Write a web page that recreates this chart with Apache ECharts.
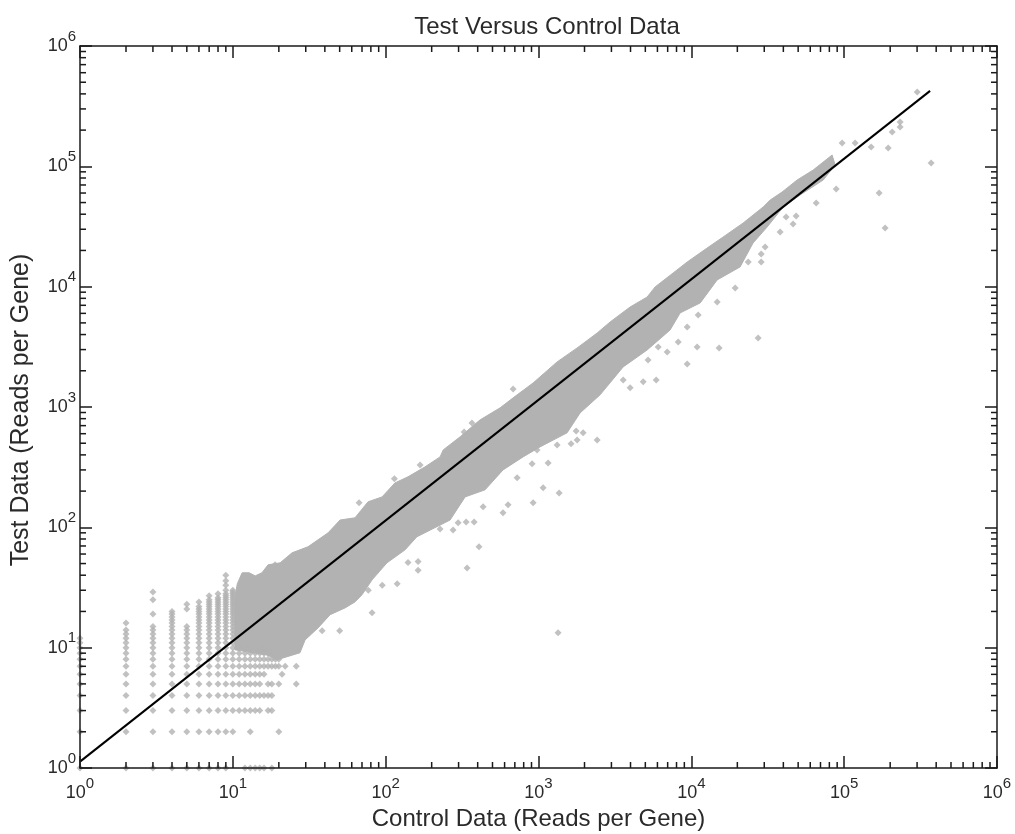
<!DOCTYPE html>
<html>
<head>
<meta charset="utf-8">
<title>Test Versus Control Data</title>
<script src="https://cdn.jsdelivr.net/npm/echarts@6/dist/echarts.min.js"></script>
<style>
  html, body { margin: 0; padding: 0; background: #fff; }
  #chart { width: 1015px; height: 834px; }
</style>
</head>
<body>
<div id="chart"></div>
<script>
// fit line, end points
const fitLine = [[1, 1.13], [365000, 424000]];

// outline of the solid cloud of genes, upper side then lower side [control, test]
const cloudUpper = [
  [10.3, 25.9], [10.7, 34], [11.5, 41.9], [12.8, 41.9], [14, 39.5], [15.5, 41.9], [17, 48.8], [20.4, 50.7],
  [24.4, 61.4], [31, 68.9], [42, 90], [50.3, 115], [63, 120], [76.7, 163], [94.7, 179], [115, 234], [140, 263],
  [181, 318], [227, 385], [238, 440], [307, 565], [415, 782], [561, 984], [682, 1191], [922, 1585], [1324, 2371],
  [1790, 3097], [2420, 4121], [2944, 5094], [3975, 6776], [5140, 8204], [5795, 9954], [7603, 13000], [9397, 16032],
  [12680, 20940], [16150, 25880], [21830, 33810], [29510, 45920], [32810, 52480], [39270, 61200], [49200, 76900],
  [62660, 93100], [83400, 124200]
];
const cloudLower = [
  [10.3, 9.6], [16.7, 8.7], [19.5, 7.94], [27.5, 9.07], [29.7, 11.6], [36.1, 14.6], [43.3, 18.8], [54.2, 21.4],
  [63, 24], [70, 27.5], [81.5, 36.6], [102, 50.7], [134, 65], [160, 83.4], [264, 115], [331, 179], [447, 205],
  [586, 300], [793, 385], [1023, 466], [1538, 610], [1871, 893], [2529, 1262], [3581, 2153], [5140, 2979],
  [7261, 4365], [8450, 6053], [11430, 7328], [14760, 11380], [20840, 14590], [25350, 23070], [31330, 31330],
  [39900, 45920], [51500, 57800], [72900, 76900], [87300, 102500]
];

// low counts sit on whole numbers: [control, list of test values]
const lowCountColumns = [
  [1, [1, 2, 3, 4, 5, 6, 7, 8, 9, 10, 11, 12]],
  [2, [1, 2, 3, 4, 5, 6, 7, 8, 9, 10, 11, 12, 13, 14, 16]],
  [3, [1, 2, 3, 4, 5, 6, 7, 8, 9, 10, 11, 12, 13, 14, 15, 19, 25, 29]],
  [4, [1, 2, 3, 4, 5, 6, 7, 8, 9, 10, 11, 12, 13, 14, 15, 16, 17, 18, 19, 20]],
  [5, [1, 2, 3, 4, 5, 6, 7, 8, 9, 10, 11, 12, 13, 14, 15, 21, 23]],
  [6, [1, 2, 3, 4, 5, 6, 7, 8, 9, 10, 11, 12, 13, 14, 15, 16, 17, 18, 19, 20, 21, 22, 24]],
  [7, [1, 2, 3, 4, 5, 6, 7, 8, 9, 10, 11, 12, 13, 14, 15, 16, 17, 18, 19, 20, 21, 22, 23, 24, 25, 27]],
  [8, [1, 2, 3, 4, 5, 6, 7, 8, 9, 10, 11, 12, 13, 14, 15, 16, 17, 18, 19, 20, 21, 22, 23, 24, 25, 26, 28]],
  [9, [1, 2, 3, 4, 5, 6, 7, 8, 9, 10, 11, 12, 13, 14, 15, 16, 17, 18, 19, 20, 21, 22, 23, 24, 25, 26, 27, 28, 30, 33, 36, 40]],
  [10, [2, 3, 4, 5, 6, 7, 8, 9, 10, 11, 12, 13, 14, 15, 16, 17, 18, 19, 20, 21, 22, 23, 24, 25, 26, 27, 28, 29, 30]]
];

// rows right of control = 10, below the cloud: [test, list of control values]
const lowCountRows = [
  [10, [11, 12, 13, 14, 15, 16]],
  [9, [11, 12, 13, 14, 15, 16, 17, 18]],
  [8, [11, 12, 13, 14, 15, 16, 17, 18, 19, 20]],
  [7, [11, 12, 13, 14, 15, 16, 17, 18, 19, 20, 22, 26]],
  [6, [11, 12, 13, 14, 15, 16, 21]],
  [5, [11, 12, 13, 14, 15, 17, 18, 20, 26]],
  [4, [11, 12, 13, 14, 15, 16, 17, 18]],
  [3, [11, 12, 13, 14, 15, 17, 18]],
  [2, [13, 20]],
  [1, [12, 13, 14, 15, 16, 18]]
];

// stray genes off the cloud [control, test]
const strayPoints = [
  [300600, 414000], [232300, 211900], [232300, 233300], [206100, 192800], [150300, 144600], [194100, 141900],
  [97000, 156300], [118000, 156300], [370700, 106400], [88700, 64900], [169400, 60000], [185400, 30730],
  [65600, 49500], [41700, 37900], [48500, 38640], [46300, 33200], [38100, 28450], [30400, 21380], [28640, 18710],
  [28640, 16030], [23550, 16030], [19360, 9750], [14760, 7464], [11090, 5821], [9397, 4624], [8204, 3475],
  [27350, 3750], [15200, 3097], [10910, 3155], [9397, 2280], [6950, 2871], [6067, 3155], [5212, 2460], [4842, 1618],
  [5888, 1679], [3975, 1442], [3581, 1679], [682, 1413], [367, 738], [326, 621], [168, 330], [114, 253], [67, 160],
  [18.9, 48.8], [1324, 484], [1633, 494], [1156, 343], [979, 440], [908, 337], [725, 258], [1072, 213], [1365, 193],
  [922, 160], [632, 154], [586, 132], [434, 148], [2420, 533], [1959, 610], [1762, 633], [1790, 533], [408, 69],
  [341, 46], [163, 52], [163, 44], [140, 51], [227, 97], [276, 95], [298, 109], [336, 111], [379, 111], [81.5, 19.5],
  [50, 13.8], [38.4, 13.8], [119, 34], [95, 33], [77, 30], [66, 28.6], [1343, 13.3]
];

const minorTicks = [
  2, 3, 4, 5, 6, 7, 8, 9,
  20, 30, 40, 50, 60, 70, 80, 90,
  200, 300, 400, 500, 600, 700, 800, 900,
  2000, 3000, 4000, 5000, 6000, 7000, 8000, 9000,
  20000, 30000, 40000, 50000, 60000, 70000, 80000, 90000,
  200000, 300000, 400000, 500000, 600000, 700000, 800000, 900000
];

const lowCountPoints = [];
lowCountColumns.forEach(([x, ys]) => ys.forEach((y) => lowCountPoints.push([x, y])));
lowCountRows.forEach(([y, xs]) => xs.forEach((x) => lowCountPoints.push([x, y])));

const FONT = '"Liberation Sans", Arial, sans-serif';
const INK = "#1a1a1a";
const TEXT = "#2a2a2a";
const GRAY = "#b2b2b2";

const chart = echarts.init(document.getElementById("chart"), undefined, { renderer: "canvas" });

function logAxis(extra) {
  return Object.assign({
    type: "log",
    logBase: 10,
    min: 1,
    max: 1000000,
    interval: 1,
    z: 5,
    splitLine: { show: false },
    minorTick: { show: false },
    minorSplitLine: { show: false },
    axisLine: { show: true, onZero: false, lineStyle: { color: INK, width: 1.5 } },
    axisTick: { show: true, inside: true, length: 12, lineStyle: { color: INK, width: 1.5 } },
    axisLabel: { show: false }
  }, extra);
}

const tickLabel = {
  show: true,
  color: TEXT,
  fontFamily: FONT,
  formatter: (value) => `{b|10}{s|${Math.round(Math.log10(value))}}`,
  rich: {
    b: { fontSize: 18, fontFamily: FONT, color: TEXT, lineHeight: 26, verticalAlign: "bottom" },
    s: { fontSize: 15, fontFamily: FONT, color: TEXT, lineHeight: 26, verticalAlign: "top" }
  }
};

chart.setOption({
  animation: false,
  backgroundColor: "#fff",
  title: {
    text: "Test Versus Control Data",
    left: 542,
    top: 10,
    textAlign: "center",
    textStyle: { fontFamily: FONT, fontSize: 24, fontWeight: "normal", color: TEXT }
  },
  grid: { left: 80, top: 46, width: 917, height: 722, containLabel: false, outerBoundsMode: "none" },
  xAxis: [
    logAxis({
      position: "bottom",
      name: "Control Data (Reads per Gene)",
      nameLocation: "middle",
      nameGap: 38,
      nameTextStyle: { fontFamily: FONT, fontSize: 24, color: TEXT },
      axisLabel: Object.assign({ margin: 8 }, tickLabel)
    }),
    logAxis({ position: "top" })
  ],
  yAxis: [
    logAxis({
      position: "left",
      name: "Test Data (Reads per Gene)",
      nameLocation: "middle",
      nameGap: 46,
      nameTextStyle: { fontFamily: FONT, fontSize: 25, color: TEXT, padding: [0, 6, 0, 0] },
      axisLabel: Object.assign({ margin: 4, padding: [0, 0, 8, 0] }, tickLabel)
    }),
    logAxis({ position: "right" })
  ],
  series: [
    {
      type: "custom",
      name: "cloud",
      coordinateSystem: "cartesian2d",
      z: 1,
      silent: true,
      data: [[1, 1]],
      renderItem: (params, api) => ({
        type: "polygon",
        shape: { points: cloudUpper.concat(cloudLower.slice().reverse()).map((p) => api.coord(p)) },
        style: { fill: GRAY, stroke: GRAY, lineWidth: 1 }
      })
    },
    {
      type: "scatter",
      name: "low counts",
      z: 2,
      clip: false,
      symbol: "diamond",
      symbolSize: 7,
      itemStyle: { color: GRAY },
      data: lowCountPoints
    },
    {
      type: "scatter",
      name: "stray",
      z: 2,
      clip: false,
      symbol: "diamond",
      symbolSize: 7,
      itemStyle: { color: GRAY },
      data: strayPoints
    },
    {
      type: "line",
      name: "fit",
      z: 3,
      symbol: "none",
      lineStyle: { color: "#000", width: 2 },
      data: fitLine
    },
    {
      type: "custom",
      name: "minor ticks",
      coordinateSystem: "cartesian2d",
      z: 6,
      silent: true,
      clip: false,
      data: minorTicks.map((v) => [v, v]),
      renderItem: (params, api) => {
        const v = api.value(0);
        const len = 6;
        const style = { stroke: INK, lineWidth: 1.5 };
        const bottom = api.coord([v, 1]);
        const top = api.coord([v, 1000000]);
        const left = api.coord([1, v]);
        const right = api.coord([1000000, v]);
        const tick = (x1, y1, x2, y2) => ({ type: "line", shape: { x1, y1, x2, y2 }, style });
        return {
          type: "group",
          children: [
            tick(bottom[0], bottom[1], bottom[0], bottom[1] - len),
            tick(top[0], top[1], top[0], top[1] + len),
            tick(left[0], left[1], left[0] + len, left[1]),
            tick(right[0], right[1], right[0] - len, right[1])
          ]
        };
      }
    }
  ]
});
</script>
</body>
</html>
